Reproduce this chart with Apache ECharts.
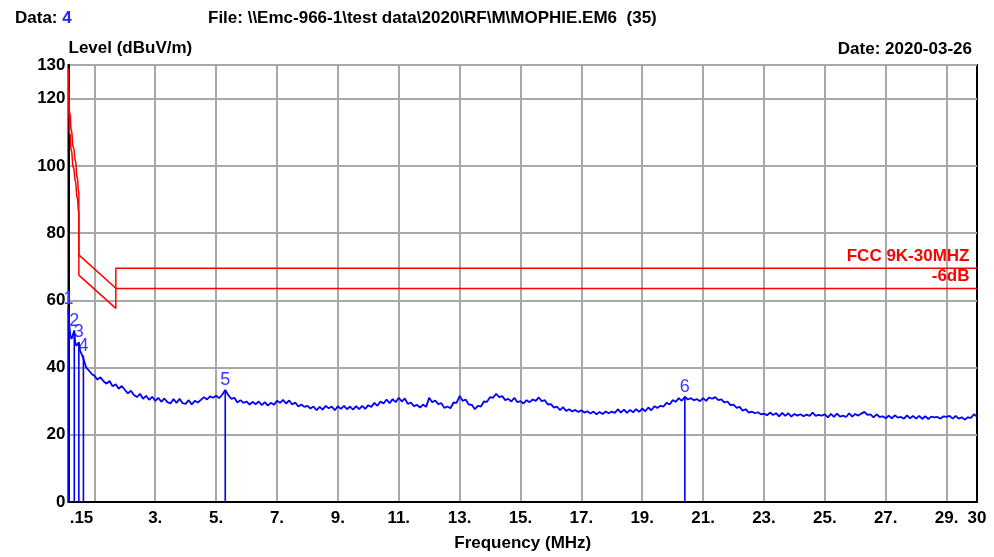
<!DOCTYPE html>
<html>
<head>
<meta charset="utf-8">
<script src="https://cdn.jsdelivr.net/npm/echarts@6/dist/echarts.min.js"></script>
<style>
html,body{margin:0;padding:0;background:#fff;}
#chart{width:994px;height:557px;}
</style>
</head>
<body>
<div id="chart"></div>
<script>
// ---------- data ----------
const xGridValues = [1,3,5,7,9,11,13,15,17,19,21,23,25,27,29];
const xLabelValues = [0.15,3,5,7,9,11,13,15,17,19,21,23,25,27,29,30];
const yLabelValues = [0,20,40,60,80,100,120,130];

// limit line (FCC 9K-30MHz) and limit -6dB
const limitFreq   = [0.15, 0.16, 0.18, 0.21, 0.23, 0.26, 0.29, 0.33, 0.36, 0.39, 0.42, 0.45, 0.47, 0.49, 0.49, 1.705, 1.705, 30];
const limitLevel  = [129, 124, 116, 115, 111, 110, 106, 105, 102, 101, 97, 96, 93, 92, 73.5, 63.6, 69.5, 69.5];
const limit6Level = [123, 118, 110, 109, 105, 104, 100, 99, 96, 95, 91, 90, 87, 86, 67.5, 57.6, 63.5, 63.5];
const limitName = 'FCC 9K-30MHZ';
const limit6Name = '-6dB';

// measured trace, low-frequency part (irregular points)
const lowFreq  = [0.15,0.18,0.21,0.25,0.29,0.34,0.37,0.41,0.45,0.49,0.53,0.57,0.61,0.64,0.68,0.72,0.77,0.82,0.87,0.92,0.96];
const lowLevel = [57.5,52,49.5,48.5,48,51,47.5,46.5,46,47.5,45,44.2,43.4,43.5,41.5,40.2,39.6,39.2,38.6,38.0,37.7];

// measured trace, 1.0 MHz .. 30.0 MHz, one reading every 0.1 MHz
const sweepStart = 1.0, sweepStep = 0.1;
const sweepLevel = [
37.6,36.4,37.1,35.9,35.2,36.0,34.4,35.0,33.7,34.5,
33.4,32.3,33.1,31.8,31.2,32.2,30.7,31.6,30.4,31.3,
30.1,31.0,29.8,30.8,29.7,29.3,30.6,29.5,30.7,29.4,
29.2,30.3,29.0,30.1,29.6,30.4,31.2,30.5,31.4,31.0,
31.6,30.9,31.9,33.3,31.8,30.7,31.0,29.6,30.3,29.5,
29.9,29.0,29.8,29.1,29.9,28.8,29.7,28.7,29.5,28.9,
30.1,29.5,30.4,29.3,30.2,29.0,29.6,28.4,29.0,28.3,
28.6,27.8,28.4,27.3,28.3,27.5,28.6,27.9,28.4,27.3,
28.5,27.7,28.6,27.6,28.4,27.5,28.5,27.6,28.6,27.7,
28.8,28.3,29.5,28.6,29.9,29.3,30.5,29.4,30.6,29.7,
31.0,29.9,30.8,29.2,29.6,28.5,28.9,28.1,29.0,28.3,
31.0,29.7,30.2,29.1,29.4,28.0,28.4,27.9,29.6,29.5,
31.5,30.1,30.5,29.0,28.9,27.6,28.6,28.4,29.9,29.8,
31.2,31.0,32.2,31.2,31.5,30.3,30.7,29.9,31.0,29.7,
30.0,29.3,30.3,29.7,30.5,30.1,31.1,30.0,30.3,29.0,
29.1,28.1,28.4,27.3,28.2,27.1,27.6,26.9,27.4,26.8,
27.3,26.6,27.0,26.3,26.9,26.1,26.8,26.2,26.9,26.4,
26.9,26.5,27.6,26.6,27.5,26.5,27.4,26.7,27.6,26.8,
27.8,27.0,28.1,27.3,28.5,28.0,28.6,28.4,29.5,29.0,
30.3,29.8,30.9,30.1,31.3,30.5,30.9,30.3,30.6,30.0,
30.9,30.1,31.1,30.7,31.2,30.3,30.5,29.6,29.9,28.8,
29.0,28.0,28.3,27.2,27.6,26.6,26.9,26.4,26.7,26.1,
26.3,25.8,26.6,25.9,26.4,25.5,26.5,25.6,26.4,25.4,
26.2,25.7,26.1,25.5,26.0,25.6,26.6,25.6,25.9,25.7,
26.1,25.2,26.2,25.3,26.3,25.4,25.7,25.3,26.4,25.4,
26.2,25.7,26.3,26.8,25.9,26.1,25.2,26.1,25.3,25.5,
24.9,25.7,24.9,25.8,25.1,25.3,24.8,25.8,24.9,25.6,
24.8,25.6,24.7,25.5,24.7,25.4,25.2,25.3,24.8,25.5,
25.3,25.6,24.8,25.6,24.8,25.2,24.5,25.2,25.0,26.1,
25.4
];

// peak markers
const markerNames = ['1','2','3','4','5','6'];
const markerFreq  = [0.15, 0.34, 0.49, 0.64, 5.3, 20.4];
const markerLevel = [57.5, 51, 47.5, 43.5, 33.3, 31.3];

// ---------- build ----------
const FONT = '"Liberation Sans", Arial, sans-serif';
const BLUE = '#0000ff';
const RED = '#ff0000';

const traceData = [];
lowFreq.forEach((f, i) => traceData.push([f, lowLevel[i]]));
sweepLevel.forEach((v, i) => traceData.push([+(sweepStart + i * sweepStep).toFixed(2), v]));

const limitData = limitFreq.map((f, i) => [f, limitLevel[i]]);
const limit6Data = limitFreq.map((f, i) => [f, limit6Level[i]]);
const markerData = markerFreq.map((f, i) => ({ value: [f, markerLevel[i]], name: markerNames[i] }));

const chart = echarts.init(document.getElementById('chart'), null, { renderer: 'canvas' });

const labelFont = { fontFamily: FONT, fontWeight: 'bold', fontSize: 17, color: '#000' };

chart.setOption({
  animation: false,
  backgroundColor: '#fff',
  title: [
    { text: 'Data: {b|4}', left: 10, top: 5,
      textStyle: Object.assign({}, labelFont, { rich: { b: Object.assign({}, labelFont, { color: '#2424ff' }) } }) },
    { text: 'File: \\\\Emc-966-1\\test data\\2020\\RF\\M\\MOPHIE.EM6  (35)', left: 203, top: 5, textStyle: labelFont },
    { text: 'Date: 2020-03-26', right: 17, top: 36, textStyle: labelFont }
  ],
  grid: { left: 68.5, right: 17, top: 65, bottom: 54.5, show: true, borderColor: '#000', borderWidth: 2, backgroundColor: 'transparent' },
  xAxis: {
    type: 'value', min: 0.15, max: 30,
    name: 'Frequency (MHz)', nameLocation: 'middle', nameGap: 33,
    nameTextStyle: labelFont,
    axisLine: { show: true, lineStyle: { color: '#000', width: 2 } },
    axisTick: { show: false, customValues: xGridValues },
    splitLine: { show: true, lineStyle: { color: '#a8a8a8', width: 2 } },
    axisLabel: {
      customValues: xLabelValues, margin: 8,
      fontFamily: FONT, fontWeight: 'bold', fontSize: 17, color: '#000',
      formatter: function (v) {
        if (Math.abs(v - 0.15) < 1e-6) return '{s|.15}';
        if (v === 30) return '30';
        return v + '.';
      },
      rich: { s: { fontFamily: FONT, fontWeight: 'bold', fontSize: 17, color: '#000', padding: [0, 0, 0, 26] } }
    }
  },
  yAxis: {
    type: 'value', min: 0, max: 130, interval: 20,
    name: 'Level (dBuV/m)', nameLocation: 'end', nameGap: 3,
    nameTextStyle: Object.assign({}, labelFont, { align: 'left', verticalAlign: 'bottom' }),
    axisLine: { show: true, lineStyle: { color: '#000', width: 2 } },
    axisTick: { show: false },
    splitLine: { show: true, lineStyle: { color: '#a8a8a8', width: 2 } },
    axisLabel: { margin: 3, fontFamily: FONT, fontWeight: 'bold', fontSize: 17, color: '#000',
      customValues: yLabelValues }
  },
  series: [
    {
      name: limitName, type: 'line', data: limitData, showSymbol: false, symbol: 'none',
      lineStyle: { color: RED, width: 1.5 }, z: 3,
      markPoint: {
        symbol: 'circle', symbolSize: 1, itemStyle: { color: 'rgba(0,0,0,0)' },
        label: { show: true, position: 'left', distance: 7, offset: [0, -12], formatter: limitName,
          fontFamily: FONT, fontWeight: 'bold', fontSize: 17, color: RED },
        data: [{ coord: [limitFreq[limitFreq.length - 1], limitLevel[limitLevel.length - 1]] }]
      }
    },
    {
      name: limit6Name, type: 'line', data: limit6Data, showSymbol: false, symbol: 'none',
      lineStyle: { color: RED, width: 1.5 }, z: 3,
      markPoint: {
        symbol: 'circle', symbolSize: 1, itemStyle: { color: 'rgba(0,0,0,0)' },
        label: { show: true, position: 'left', distance: 7, offset: [0, -12], formatter: limit6Name,
          fontFamily: FONT, fontWeight: 'bold', fontSize: 17, color: RED },
        data: [{ coord: [limitFreq[limitFreq.length - 1], limit6Level[limit6Level.length - 1]] }]
      }
    },
    {
      name: 'markers', type: 'bar', data: markerData, barWidth: 1.6, z: 4,
      itemStyle: { color: BLUE },
      label: { show: true, position: 'top', distance: 1, formatter: '{b}',
        fontFamily: FONT, fontSize: 18, color: '#3a3aff' }
    },
    {
      name: 'trace', type: 'line', data: traceData, showSymbol: false, symbol: 'none',
      lineStyle: { color: BLUE, width: 1.8 }, z: 5
    }
  ]
});
</script>
</body>
</html>
